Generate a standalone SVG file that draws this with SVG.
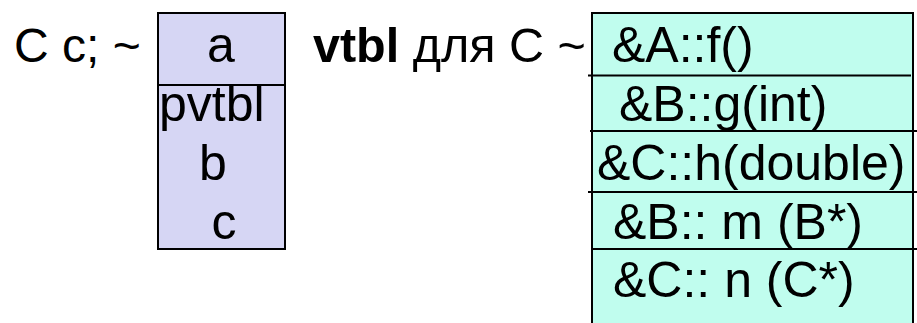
<svg xmlns="http://www.w3.org/2000/svg" width="917" height="323" viewBox="0 0 917 323">
  <style>
    text { font-family: "Liberation Sans", Arial, sans-serif; font-size: 50px; fill: #000; }
    .obj { fill: #d6d6f4; stroke: #000; stroke-width: 2; }
    .tbl { fill: #c0fdee; stroke: #000; stroke-width: 2; }
    .sep { stroke: #000; stroke-width: 2; }
    .mid { text-anchor: middle; }
    .decl { font-size: 48px; }
    .head { font-size: 48.5px; }
  </style>
  <rect width="917" height="323" fill="#fff"/>

  <!-- object layout of c -->
  <g id="object-c">
    <text class="decl" x="14" y="62">C c; ~</text>
    <rect class="obj" x="158" y="13" width="127" height="236"/>
    <line class="sep" x1="158" y1="85" x2="285" y2="85"/>
    <text class="mid" x="221" y="62">a</text>
    <text x="159" y="121">pvtbl</text>
    <text class="mid" x="213" y="180">b</text>
    <text class="mid" x="224" y="239">c</text>
  </g>

  <!-- virtual table of C -->
  <g id="vtbl-c">
    <text class="head" x="313" y="62"><tspan font-weight="bold">vtbl</tspan> для С ~</text>
    <rect class="tbl" x="592" y="13" width="321" height="320"/>
    <line class="sep" x1="588" y1="75.5" x2="911" y2="75.5"/>
    <line class="sep" x1="590" y1="131" x2="917" y2="131"/>
    <line class="sep" x1="588" y1="192" x2="917" y2="192"/>
    <line class="sep" x1="593" y1="249" x2="917" y2="249"/>
    <text x="612" y="62">&amp;A::f()</text>
    <text x="619" y="121">&amp;B::g(int)</text>
    <text x="597" y="180">&amp;C::h(double)</text>
    <text x="613" y="239">&amp;B:: m (B*)</text>
    <text x="613" y="297">&amp;C:: n (C*)</text>
  </g>
</svg>
